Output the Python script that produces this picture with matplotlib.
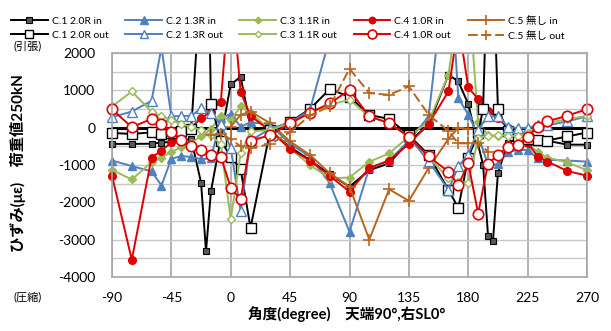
import matplotlib
matplotlib.use('Agg')
import matplotlib.pyplot as plt
import matplotlib.patches as mpatches
import numpy as np

plt.rcParams['font.family'] = ['Lato', 'Noto Sans CJK JP', 'DejaVu Sans']
plt.rcParams['axes.unicode_minus'] = False

nan = np.nan

# angle positions (degree)
x_main = [-90, -75, -60, -52.5, -45, -37.5, -30, -22.5, -15, -7.5, 0, 7.5, 15, 30, 45, 60, 75, 90,
          105, 120, 135, 150, 165, 172.5, 180, 187.5, 195, 202.5, 210, 217.5, 225, 232.5, 240, 255, 270]

# C.1 2.0R
x_c1_in = [-90, -75, -60, -52.5, -45, -37.5, -30, -22.5, -18.75, -15, 0, 7.5, 15, 30, 45, 60, 75, 90,
           105, 120, 135, 150, 165, 172.5, 180, 191.25, 195, 198.75, 202.5, 210, 217.5, 225, 232.5, 240, 255, 270]
c1_in = [-435, -435, -430, -400, -380, -340, -300, -1475, -3310, -1700, 1160, 1360, 20, -80, -520, -870, -1250, -1580,
         -1140, -955, -370, 75, 1420, 1240, 630, -1000, -2900, -3030, -1210, -400, -300, -250, -330, -350, -455, -455]
x_c1_out = [-90, -75, -60, -52.5, -45, -37.5, -30, -22.5, -18.75, -15, -7.5, 0, 7.5, 15, 30, 45, 60, 75, 90,
            105, 120, 135, 150, 165, 172.5, 180, 187.5, 191.25, 195, 198.75, 202.5, 210, 217.5, 225, 232.5, 240, 255, 270]
c1_out = [-140, -170, -125, -175, -140, -80, -30, 4000, 8000, 640, -350, -775, -1120, -2680, -60, 150, 500, 1030, 830,
          340, 235, -200, -730, -1670, -2150, -800, -150, 500, 5000, 4500, 500, -100, -240, -300, -330, -345, -235, -130]

# C.2 1.3R
c2_in = [-880, -1030, -1170, -1550, -830, -760, -785, -840, -825, 250, 370, 20, 150, 75, -434, -775, -1490, -2790,
         -1080, -880, -350, 300, 5000, 790, 350, -200, -1000, -980, -650, -600, -600, -820, -860, -880, -910]
c2_out = [280, 433, 720, 2150, 300, 315, 315, 520, 390, 100, -550, -2240, -350, -20, 130, 477, 2400, nan,
          nan, nan, -250, -900, -1665, -1040, -720, -50, 300, 300, 30, -15, 0, 60, 60, 170, 300]

# C.3 1.1R
c3_in = [-1134, -1386, -930, -800, -650, -520, -400, -230, -30, 300, 200, 567, 400, -60, -560, -1000, -1360, -1335,
         -914, -690, -240, 165, 1420, 3300, 3800, 150, -200, -230, -220, -230, -420, -650, -800, -930, -1140]
c3_out = [567, 970, 430, 300, 210, 85, 20, -60, -200, -450, -2450, -690, -100, -60, 120, 390, 613, 750,
          300, 120, -240, -780, -1360, -1450, -1480, -280, -230, -200, -210, -230, -150, 40, 130, 220, 320]

# C.4 1.0R
c4_in = [-1287, -3540, -800, -615, -395, -200, 0, 250, 430, 700, 4000, 950, 316, -86, -568, -882, -1290, -1713,
         -1080, -882, -434, 102, 970, 2800, 1078, 765, 451, 250, 0, -200, -400, -776, -909, -1160, -1286]
c4_out = [493, 12, 236, 102, -104, -330, -490, -600, -720, -775, -1610, -1920, -350, -200, 115, 400, 650, 1010,
          300, 125, -250, -770, -1180, -1540, -950, -2300, -960, -735, -510, -470, -240, 20, 170, 318, 497]

# C.5 無し
x_c5_in = [0, 7.5, 15, 30, 45, 60, 75, 90, 105, 120, 135, 150, 165, 172.5, 180]
c5_in = [30, 340, 430, 120, -370, -730, -1220, -1580, -3000, -1650, -1960, -1080, -300, 0, -30]
x_c5_out = [-15, -7.5, 0, 7.5, 15, 30, 45, 60, 75, 90, 105, 120, 135, 150, 165, 172.5, 180, 187.5, 195]
c5_out = [-200, -170, -310, -500, -540, -443, -120, 326, 568, 1580, 925, 880, 1105, 345, -90, -420, -420, -420, -640]

x_ticks = [-90, -45, 0, 45, 90, 135, 180, 225, 270]
y_ticks = [-4000, -3000, -2000, -1000, 0, 1000, 2000]

blue = '#4F81BD'
green = '#9BBB59'
red = '#E00000'
brown = '#B8651E'

fig = plt.figure(figsize=(6.11, 3.31), dpi=100)
ax = fig.add_axes([112/611, 1-277/331, 475/611, 224/331])

ax.set_xlim(-90, 270)
ax.set_ylim(-4000, 2000)
ax.set_xticks(x_ticks)
ax.set_yticks(y_ticks)
ax.set_yticks(np.arange(-4000, 2001, 500), minor=True)
ax.grid(True, axis='x', which='major', color='#A6A6A6', lw=1.2)
ax.grid(True, axis='y', which='both', color='#C8C8C8', lw=1.0)
ax.set_axisbelow(True)
ax.tick_params(which='both', length=0)
ax.tick_params(axis='y', pad=12, labelsize=10)
ax.tick_params(axis='x', pad=11, labelsize=10)
for s in ax.spines.values():
    s.set_color('#A6A6A6')
    s.set_linewidth(1.2)

ax.axhline(0, color='black', lw=2.2, zorder=1.5)

series = [
    ('C.1 2.0R in', x_c1_in, c1_in, dict(color='black', marker='s', ms=4.5, mfc='#595959', mec='black', mew=0.8)),
    ('C.2 1.3R in', x_main, c2_in, dict(color=blue, marker='^', ms=6, mfc=blue, mec=blue)),
    ('C.3 1.1R in', x_main, c3_in, dict(color=green, marker='D', ms=4, mfc=green, mec=green)),
    ('C.4 1.0R in', x_main, c4_in, dict(color=red, marker='o', ms=5.5, mfc=red, mec=red)),
    ('C.5 無し in', x_c5_in, c5_in, dict(color=brown, marker='+', ms=8, mew=1.2)),
    ('C.1 2.0R out', x_c1_out, c1_out, dict(color='black', marker='s', ms=6.5, mfc='white', mec='black', mew=1.0)),
    ('C.2 1.3R out', x_main, c2_out, dict(color=blue, marker='^', ms=6.5, mfc='white', mec=blue, mew=1.0)),
    ('C.3 1.1R out', x_main, c3_out, dict(color=green, marker='D', ms=3.8, mfc='white', mec=green, mew=1.0)),
    ('C.4 1.0R out', x_main, c4_out, dict(color=red, marker='o', ms=7.5, mfc='white', mec=red, mew=1.2)),
    ('C.5 無し out', x_c5_out, c5_out, dict(color=brown, marker='+', ms=8, mew=1.2, ls=(0, (5, 2)))),
]

handles = {}
for label, xs, ys, kw in series:
    ln, = ax.plot(xs, ys, lw=1.4, label=label, zorder=2, **kw)
    clip = mpatches.Rectangle((-0.03, 0), 1.06, 1, transform=ax.transAxes)
    ln.set_clip_path(clip)
    handles[label] = ln

order = ['C.1 2.0R in', 'C.1 2.0R out', 'C.2 1.3R in', 'C.2 1.3R out', 'C.3 1.1R in', 'C.3 1.1R out',
         'C.4 1.0R in', 'C.4 1.0R out', 'C.5 無し in', 'C.5 無し out']
fig.legend([handles[k] for k in order], order, ncol=5, loc='upper left', bbox_to_anchor=(0.0065, 0.975),
           frameon=False, fontsize=7.5, handlelength=3.5, handletextpad=0.4, columnspacing=1.6,
           labelspacing=0.5, borderpad=0.5, borderaxespad=0.2, markerscale=0.85)

fig.text(18/611, 1-163/331, 'ひずみ(με)　荷重値250kN', rotation=90, ha='center', va='center',
         fontsize=11, fontweight='bold')
fig.text(347/611, 1-314/331, '角度(degree)　天端90°,右SL0°', ha='center', va='center',
         fontsize=10.5, fontweight='bold')
fig.text(28/611, 1-46/331, '(引張)', ha='center', va='center', fontsize=8)
fig.text(28/611, 1-297/331, '(圧縮)', ha='center', va='center', fontsize=8)

fig.savefig('out.png', dpi=100)
